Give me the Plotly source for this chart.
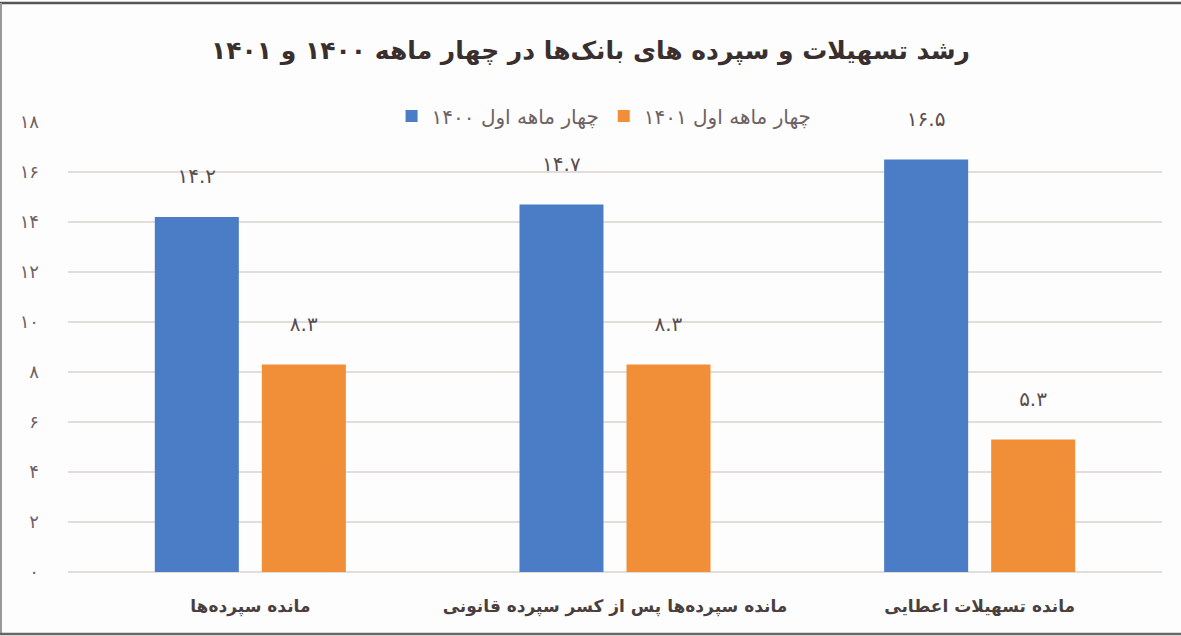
import plotly.graph_objects as go

# Data (categories in left-to-right display order)
categories = ["مانده سپرده\u200cها",
              "مانده سپرده\u200cها پس از کسر سپرده قانونی",
              "مانده تسهیلات اعطایی"]
values_1400 = [14.2, 14.7, 16.5]
values_1401 = [8.3, 8.3, 5.3]
series_names = ["چهار ماهه اول ۱۴۰۰", "چهار ماهه اول ۱۴۰۱"]
title_text = "رشد تسهیلات و سپرده های بانک\u200cها در چهار ماهه ۱۴۰۰ و ۱۴۰۱"
tick_values = [0, 2, 4, 6, 8, 10, 12, 14, 16, 18]
tick_labels = ["۰", "۲", "۴", "۶", "۸", "۱۰", "۱۲", "۱۴", "۱۶", "۱۸"]

FA_DIGITS = str.maketrans("0123456789", "۰۱۲۳۴۵۶۷۸۹")


def fa(v):
    return f"{v:.1f}".translate(FA_DIGITS)


FONT = "DejaVu Sans"
BLUE = "#4a7dc6"
ORANGE = "#f08f38"
TEXT = "#4a3f3f"

fig = go.Figure()
for name, vals, color in [(series_names[0], values_1400, BLUE),
                          (series_names[1], values_1401, ORANGE)]:
    fig.add_trace(go.Bar(
        x=categories, y=vals, name=name,
        marker=dict(color=color, line=dict(width=0)),
        text=[fa(v) + "<br> " for v in vals],
        textposition="outside",
        textfont=dict(family=FONT, size=20, color="#5a4d4d"),
        cliponaxis=False,
    ))

# Plot area geometry in pixels (for the frame shapes)
W, H = 1181, 636
L, R, T, B = 68, 1162, 122, 572
pw, ph = R - L, B - T


def px(x):
    return (x - L) / pw


def py(y):
    return (B - y) / ph


fig.update_layout(
    width=W, height=H,
    margin=dict(l=L, r=W - R, t=T, b=H - B),
    paper_bgcolor="#fdfdfd",
    plot_bgcolor="#fdfdfd",
    barmode="group",
    bargap=0.413,
    bargroupgap=0.215,
    title=dict(text="<b>" + title_text + "</b>", x=0.5, xanchor="center",
               y=1 - 50 / H, yanchor="middle",
               font=dict(family=FONT, size=25, color="#3a2f2f")),
    legend=dict(orientation="h", x=0.49, xanchor="center", y=py(116),
                yanchor="middle",
                font=dict(family=FONT, size=20, color="#6e6262"),
                bgcolor="rgba(0,0,0,0)", itemwidth=30, traceorder="normal"),
    font=dict(family=FONT, color=TEXT),
    xaxis=dict(showgrid=False, showline=False,
               ticks="", tickfont=dict(family=FONT, size=17, color=TEXT),
               tickprefix="<b>", ticksuffix="</b>",
               ticklabelstandoff=22),
    yaxis=dict(range=[0, 18], tickvals=tick_values, ticktext=tick_labels,
               showgrid=True, gridcolor="#e2ddd9", gridwidth=1.5,
               zeroline=True, zerolinecolor="#e2ddd9", zerolinewidth=1.5,
               showline=False, ticks="", ticklabelstandoff=28,
               tickfont=dict(family=FONT, size=18, color="#6e6262")),
    shapes=[
        dict(type="line", xref="paper", yref="paper",
             x0=px(0), x1=px(W), y0=py(3), y1=py(3),
             line=dict(color="#555555", width=2.5)),
        dict(type="line", xref="paper", yref="paper",
             x0=px(1), x1=px(1), y0=py(3), y1=py(634),
             line=dict(color="#999999", width=2)),
        dict(type="line", xref="paper", yref="paper",
             x0=px(0), x1=px(W), y0=py(634), y1=py(634),
             line=dict(color="#666666", width=2.5)),
    ],
)

fig.write_html("out.html",
               config={"displayModeBar": False},
               post_script="document.body.style.margin='0';"
                           "document.body.style.overflow='hidden';")
